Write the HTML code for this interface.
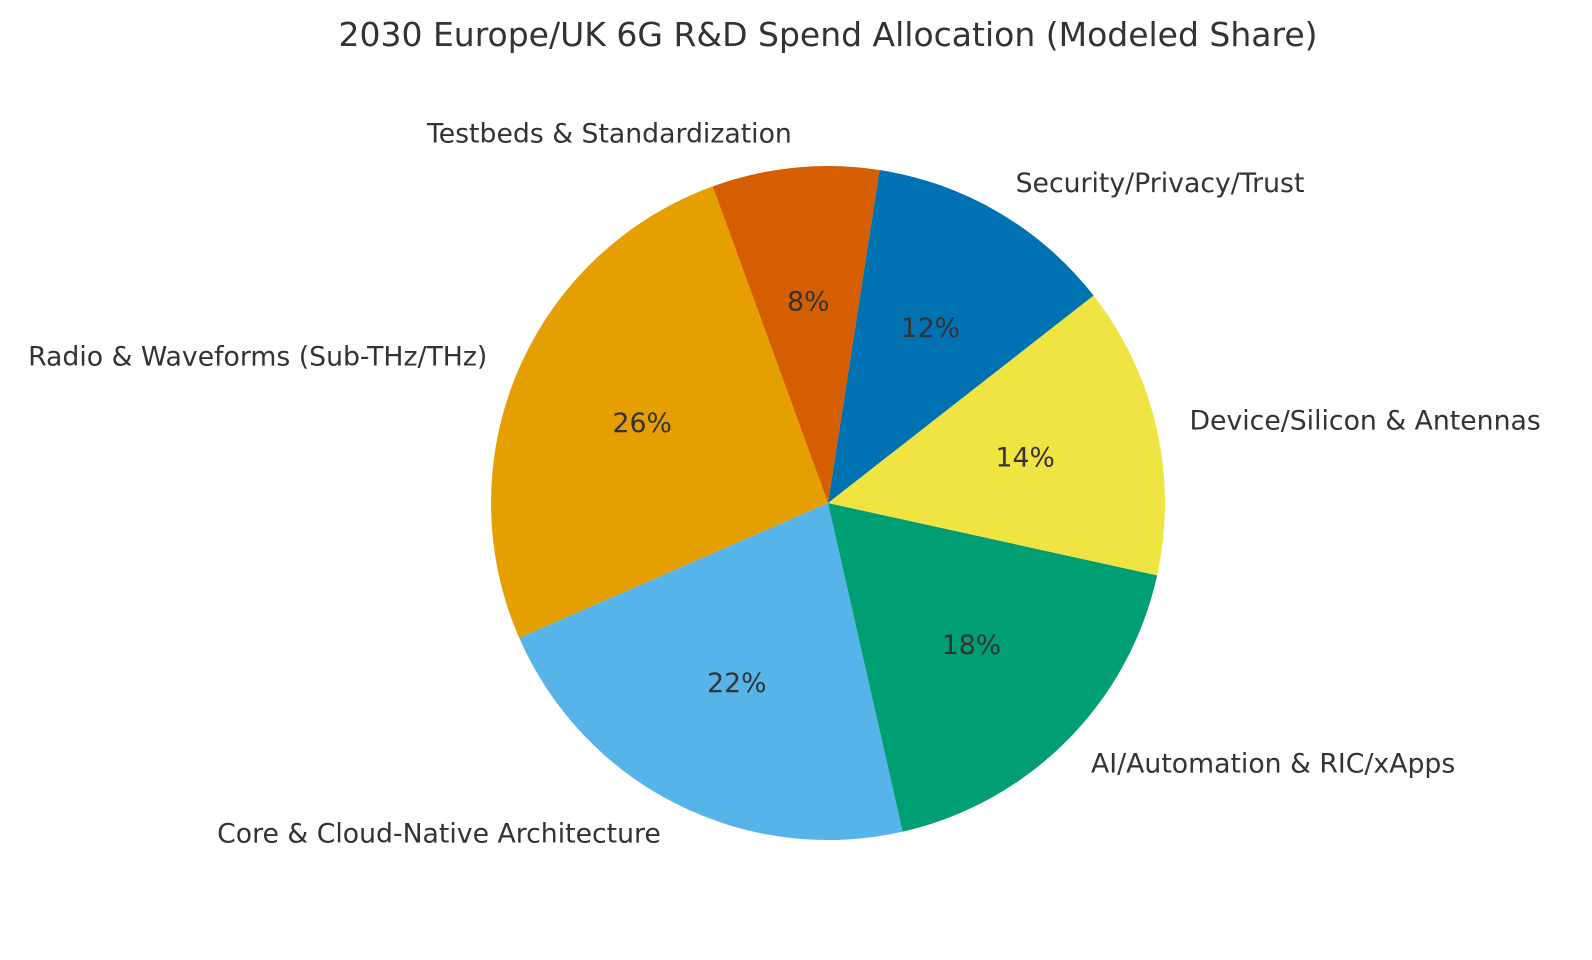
<!DOCTYPE html>
<html><head><meta charset="utf-8"><style>
body{margin:0;background:#fff;}
svg{display:block;font-family:"DejaVu Sans","Liberation Sans",sans-serif;}
</style></head><body>
<svg id="chart" width="1592" height="960" viewBox="0 0 1592 960">
<text x="828" y="46" text-anchor="middle" font-size="33" fill="#333">2030 Europe/UK 6G R&amp;D Spend Allocation (Modeled Share)</text>
<g id="slices"></g><g id="labels"></g>
</svg>
<script>
const categories=["Radio & Waveforms (Sub-THz/THz)","Core & Cloud-Native Architecture","AI/Automation & RIC/xApps","Device/Silicon & Antennas","Security/Privacy/Trust","Testbeds & Standardization"];
const shares=[26,22,18,14,12,8];
const colors=["#E69F00","#56B4E9","#009E73","#F0E442","#0072B2","#D55E00"];
const cx=828,cy=503,r=337,start=110;
const NS="http://www.w3.org/2000/svg";
const gS=document.getElementById('slices'),gL=document.getElementById('labels');
const total=shares.reduce((a,b)=>a+b,0);
let a0=start;
function pt(a,rr){const t=a*Math.PI/180;return [cx+rr*Math.cos(t),cy-rr*Math.sin(t)];}
shares.forEach((v,i)=>{
  const a1=a0+360*v/total;
  const p0=pt(a0,r),p1=pt(a1,r);
  const large=(a1-a0)>180?1:0;
  const path=document.createElementNS(NS,'path');
  path.setAttribute('d',`M${cx},${cy} L${p0[0]},${p0[1]} A${r},${r} 0 ${large} 0 ${p1[0]},${p1[1]} Z`);
  path.setAttribute('fill',colors[i]);
  
  
  gS.appendChild(path);
  const m=(a0+a1)/2;
  const lp=pt(m,r*1.1);
  const lt=document.createElementNS(NS,'text');
  lt.setAttribute('x',lp[0]);lt.setAttribute('y',lp[1]);
  lt.setAttribute('text-anchor',Math.cos(m*Math.PI/180)>0?'start':'end');
  lt.setAttribute('dominant-baseline','central');
  lt.setAttribute('font-size','26.7');lt.setAttribute('fill','#333');
  lt.textContent=categories[i];
  
  
  gL.appendChild(lt);
  const pp=pt(m,r*0.6);
  const pt2=document.createElementNS(NS,'text');
  pt2.setAttribute('x',pp[0]);pt2.setAttribute('y',pp[1]);
  pt2.setAttribute('text-anchor','middle');pt2.setAttribute('dominant-baseline','central');
  pt2.setAttribute('font-size','26.7');pt2.setAttribute('fill','#333');
  pt2.textContent=Math.round(100*v/total)+'%';
  
  
  gL.appendChild(pt2);
  a0=a1;
});
</script>
</body></html>
